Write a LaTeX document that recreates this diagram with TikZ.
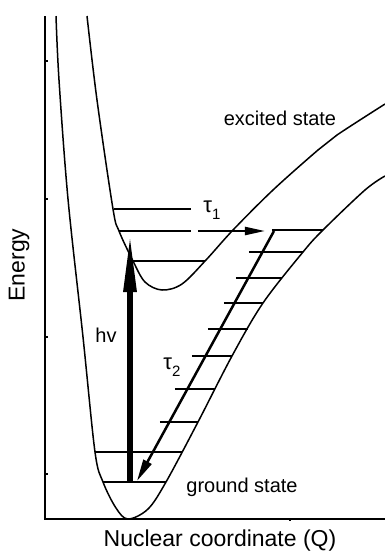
\documentclass[tikz,border=0pt]{standalone}
\usepackage{fontspec}
\setmainfont{Liberation Sans}
\usetikzlibrary{arrows.meta}
\tikzset{
  pes/.style={line width=0.75pt, line join=round},
  vib/.style={line width=0.7pt},
  axisline/.style={line width=0.55pt},
  lbl/.style={inner sep=0pt, font=\fontsize{10}{12}\selectfont},
  axlbl/.style={inner sep=0pt, font=\fontsize{11.5}{14}\selectfont},
  taulbl/.style={inner sep=0pt, font=\fontsize{11}{13}\selectfont},
}
\newcommand{\tausub}[1]{τ\raisebox{-3.5pt}{\fontsize{7.5}{8}\selectfont #1}}

\begin{document}
\begin{tikzpicture}[x=0.5pt,y=-0.5pt]
\useasboundingbox (0,0) rectangle (385,554);

% axes and ticks
\draw[axisline] (45,16) -- (45,519) -- (385,519);
\foreach \ty in {61,199,337,474}
  \draw[axisline] (45,\ty) -- (48,\ty);
\draw[axisline] (290,519) -- (290,521);

% potential curves
\draw[pes] plot[smooth, tension=0.55] coordinates {
  (56,16) (59,80) (68,199) (83,337) (95,452) (103,482) (116,508) (128,519)
  (148,509) (166,482) (198,422) (232,356) (263,303) (303,252) (323,230)
  (365,190) (385,176)};
\draw[pes] plot[smooth, tension=0.55] coordinates {
  (87,16) (97,100) (113,209) (119,231) (133,261) (145,282) (162,290)
  (182,284) (206,260) (233,230) (273,190) (318,150) (337,135) (385,104)};

% vibrational levels, excited state
\foreach \ly/\xa/\xb in {209/114/191, 231/119/191, 261/133/205}
  \draw[vib] (\xa,\ly) -- (\xb,\ly);
% vibrational levels, ground state
\foreach \ly/\xa/\xb in {230/272/323, 252/249/303, 278/236/282, 303/224/263,
    329/208/248, 356/192/232, 389/175/215, 422/160/198, 452/95/182, 482/103/166}
  \draw[vib] (\xa,\ly) -- (\xb,\ly);

% transitions
\coordinate (hvfrom) at (130,482);
\coordinate (hvto) at (130,232);
\coordinate (tonefrom) at (198,231);
\coordinate (toneto) at (265,231);
\coordinate (ttwofrom) at (274,231);
\coordinate (ttwoto) at (137,481);
\draw[line width=3pt, -{Triangle[length=30pt,width=6pt]}] (hvfrom) -- (hvto);
\draw[line width=1.1pt, -{Triangle[length=10pt,width=4pt]}] (tonefrom) -- (toneto);
\draw[line width=1.25pt, -{Triangle[length=11pt,width=4.5pt]}] (ttwofrom) -- (ttwoto);

% labels
\node[axlbl, rotate=90] (energy) at (19,265) {Energy};
\node[axlbl] (qaxis) at (220,541) {Nuclear coordinate (Q)};
\node[lbl] (exlbl) at (280,118) {excited state};
\node[lbl] (gslbl) at (242,487) {ground state};
\node[lbl] (hv) at (106,335) {hv};
\node[taulbl] (tauone) at (212,210) {\tausub{1}};
\node[taulbl] (tautwo) at (172,367) {\tausub{2}};
\end{tikzpicture}
\end{document}
